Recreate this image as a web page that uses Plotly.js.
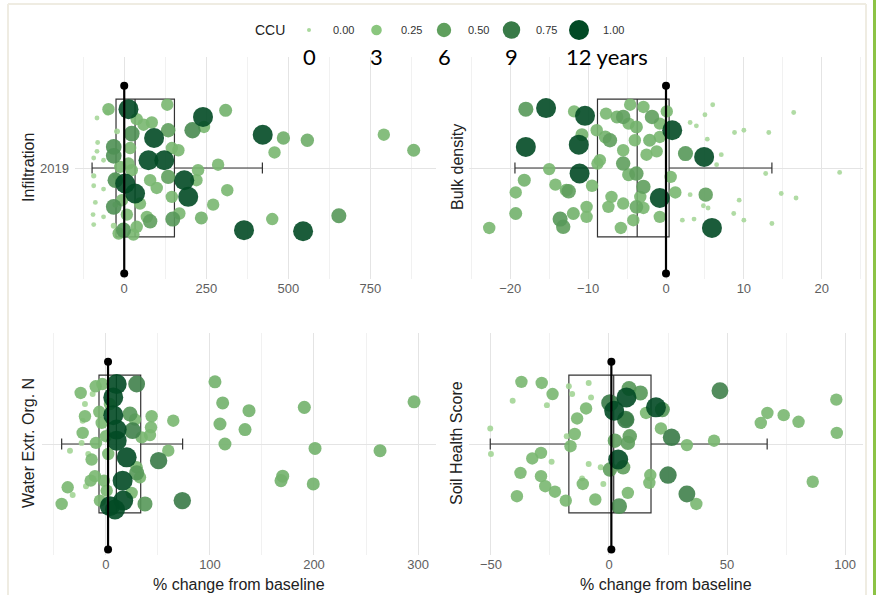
<!DOCTYPE html>
<html><head><meta charset="utf-8">
<script src="https://cdn.plot.ly/plotly-3.0.1.min.js"></script>
<style>html,body{margin:0;padding:0;background:#fff}#chart{width:876px;height:595px}</style>
</head><body><div id="chart"></div>
<script>
// ---------------- data ----------------
const panelNames = ['Infiltration', 'Bulk density', 'Water Extr. Org. N', 'Soil Health Score'];
const yearTick = ['2019'];

// Infiltration: x = % change, y = jitter offset, c = CCU
const infX = [13,240,422,91,74,122,183,3,33,195,365,545, 208,654,-32,-32,-27,-32,79,148,134,23,134,-2, -48,131,309,38,84,59,243,485,558,791,882,458,165,286,225,18,13,23,79,99,145,314,271,235,451,168,38,69,-7,8,48,-12,145,220,28,-17, -83,-52,-22,-81,-63,-93,-93,-27,-93,-63,-88,-27,-95,-63,-93,-32,-83];
const infY = [0.53,0.46,0.30,0.27,0.07,0.07,-0.11,-0.14,-0.23,-0.26,-0.56,-0.57, 0.34,-0.43,0.19,0.11,-0.11,-0.35,-0.48,-0.46,0.34,0.31,-0.08,-0.56, 0.53,0.57,0.52,0.44,0.41,0.39,0.37,0.27,0.25,0.30,0.16,0.14,0.16,0.03,-0.02,0.18,0.04,-0.02,-0.11,-0.18,-0.26,-0.20,-0.33,-0.45,-0.46,-0.41,-0.53,-0.44,-0.29,-0.42,-0.32,0.01,0.18,-0.11,-0.60,-0.59, 0.45,0.50,0.33,0.23,0.07,0.09,-0.07,-0.07,-0.16,-0.19,-0.31,-0.33,-0.42,-0.44,-0.51,-0.52,0.15];
const infC = [1,1,1,1,1,1,1,1,1,1,1,1, 0.65,0.55,0.6,0.6,0.6,0.6,0.5,0.55,0.5,0.6,0.5,0.55, 0.36,0.36,0.4,0.36,0.36,0.36,0.36,0.42,0.42,0.36,0.4,0.36,0.36,0.36,0.36,0.36,0.36,0.36,0.36,0.36,0.36,0.36,0.36,0.4,0.36,0.36,0.36,0.36,0.36,0.36,0.36,0.36,0.36,0.36,0.36,0.36, 0.02,0.05,0.05,0.02,0.02,0.02,0.03,0.05,0.02,0.02,0.02,0.05,0.02,0.02,0.02,0.05,0.02];

// Bulk density
const bdX = [-15.4,-10.4,-18.0,-11.2,-11.1,0.8,4.9,-0.8,5.9,
  -18.0,2.5,5.1,-13.2,-13.6,-12.5,-7.2,-5.5,-3.8,-2.9,-5.5,-1.8,-3.8,
  -22.7,-19.3,-19.3,-18.2,-15.0,-14.2,-12.8,-11.8,-10.8,-9.5,-10.2,-10.2,-11.9,-8.8,-8.9,-7.7,-7.8,-7.0,-7.4,-5.8,
  -5.5,-6.3,-4.6,-4.2,-3.8,-4.0,-2.9,-2.5,-2.1,-1.2,-2.9,-0.8,-0.8,0.6,1.2,0.1,-4.8,-3.3,-8.5,-5.5,-4.8,-0.8,
  6.0,5.0,3.1,3.9,16.4,8.8,10.0,13.2,5.3,7.1,6.5,12.8,22.3,3.1,9.4,14.8,16.7,4.8,5.4,8.7,10.0,3.6,2.1,13.6];
const bdY = [0.54,0.47,0.19,0.21,-0.05,0.34,0.10,-0.27,-0.54,
  0.53,0.13,-0.24,-0.53,-0.46,-0.21,0.25,0.04,-0.05,-0.17,0.46,0.46,-0.35,
  -0.54,-0.41,-0.22,-0.11,-0.01,-0.15,-0.20,0.51,0.30,-0.16,-0.35,-0.44,-0.41,0.04,0.34,0.49,0.28,-0.26,-0.35,-0.54,
  0.16,0.46,0.57,-0.47,0.37,0.25,0.55,0.12,0.25,0.15,-0.36,-0.44,0.40,-0.08,-0.22,0.51,-0.06,-0.26,0.07,-0.32,0.40,0.28,
  0.57,0.48,0.41,0.38,0.50,0.32,0.34,0.32,0.26,0.12,0.03,-0.05,-0.04,-0.24,-0.29,-0.23,-0.27,-0.34,-0.36,-0.41,-0.47,-0.46,-0.47,-0.50];
const bdC = [1,1,1,1,1,1,1,1,1,
  0.55,0.55,0.5,0.5,0.55,0.5,0.5,0.5,0.5,0.5,0.5,0.5,0.45,
  0.36,0.4,0.36,0.4,0.36,0.36,0.4,0.36,0.4,0.36,0.36,0.36,0.4,0.36,0.36,0.36,0.4,0.36,0.36,0.36,
  0.36,0.4,0.36,0.36,0.4,0.36,0.36,0.36,0.4,0.36,0.36,0.36,0.36,0.36,0.36,0.36,0.4,0.36,0.36,0.36,0.36,0.36,
  0.02,0.02,0.02,0.02,0.02,0.02,0.02,0.02,0.02,0.02,0.02,0.02,0.02,0.02,0.02,0.02,0.02,0.02,0.02,0.02,0.02,0.02,0.02,0.02];

// Water extractable organic N
const weX = [104.8,112.2,137.5,109.6,133.7,190.7,296.2,114.4,201,263.5,169.9,168.3,199.3,-24.3,-20.2,-22.4,-36.8,-42.6,-9.9,-3.5,
  -6.4,-4.1,-9.6,-13.8,-10.6,-14.7,43.9,43.3,42.3,64.7,59.9,34.3,29.5,32.7,24.7,0.7,-1.9,2.2,0,3.8,27.9,-5.8,
  -20.2,-12.8,-34.6,-19.2,-32.0,-23.4,-17.0,-22.4,
  29.5,23.1,25.6,50.6,73.4,37.5,29.5,
  10.3,7.0,7.0,10.3,10.3,19.9,16.0,16.6,3.8,8.7];
const weY = [0.56,0.37,0.30,0.18,0.13,0.33,0.38,0.00,-0.04,-0.06,-0.29,-0.33,-0.36,0.46,0.25,0.10,-0.39,-0.54,0.52,0.54,
  0.29,0.19,0.01,-0.14,-0.29,-0.33,0.25,0.15,0.08,0.21,-0.06,0.06,-0.21,-0.30,-0.44,-0.42,-0.33,-0.09,0.07,0.36,0.22,-0.51,
  0.36,0.45,-0.06,-0.38,-0.46,0.01,-0.09,0.21,
  0.54,0.27,0.12,-0.15,-0.51,-0.54,-0.26,
  0.54,0.42,0.26,0.13,0.03,-0.12,-0.33,-0.51,-0.56,-0.59];
const weC = [0.4,0.4,0.4,0.4,0.4,0.4,0.4,0.4,0.4,0.4,0.4,0.4,0.4,0.36,0.36,0.36,0.36,0.36,0.36,0.36,
  0.36,0.36,0.36,0.36,0.36,0.36,0.36,0.36,0.36,0.36,0.36,0.36,0.36,0.36,0.36,0.36,0.36,0.36,0.36,0.36,0.36,0.36,
  0.05,0.05,0.05,0.05,0.05,0.05,0.05,0.05,
  0.7,0.55,0.7,0.75,0.75,0.55,0.55,
  1,1,1,1,1,1,1,1,1,1];

// Soil health score
const shX = [-37.1,-28.5,-23.9,-9.7,-13.5,-14.5,-16.3,-28.8,-32.5,-37.5,-28.8,-27.0,-22.9,-39.0,-18.3,-11.1,-5.8,8.0,17.5,17.1,
  33.0,37.0,44.5,22.0,15.7,64.3,67.1,74.0,80.3,96.3,96.5,86.3,
  -50.3,-50,-40.8,-26.3,-17.0,-15.6,-8.6,-7.6,-17.9,-24.3,-8.6,-3.5,-2.4,-11.4,
  8.5,13.3,7.4,8.8,8.0,2.5,6.0,0.4,22.6,4.3,
  47.0,26.5,25.0,33.0,7.1,0.4,
  7.4,2.2,19.9,3.9];
const shY = [0.56,0.55,0.45,0.32,0.23,0.09,-0.02,-0.08,-0.13,-0.26,-0.29,-0.38,-0.43,-0.47,-0.51,-0.36,-0.50,-0.44,-0.28,-0.35,
  -0.01,-0.54,0.03,0.14,0.28,0.19,0.28,0.26,0.20,0.40,0.10,-0.34,
  0.14,-0.09,0.39,0.35,0.52,0.45,0.55,0.42,0.07,-0.16,-0.18,-0.21,-0.36,-0.31,
  0.50,0.46,0.22,0.07,0.01,0.03,-0.21,-0.23,0.31,-0.56,
  0.48,0.06,-0.28,-0.45,0.22,0.37,
  0.42,0.30,0.33,-0.14];
const shC = [0.36,0.36,0.36,0.36,0.36,0.36,0.36,0.36,0.36,0.36,0.36,0.36,0.36,0.36,0.36,0.36,0.36,0.36,0.36,0.36,
  0.36,0.36,0.36,0.36,0.36,0.36,0.36,0.36,0.36,0.36,0.36,0.36,
  0.05,0.05,0.05,0.05,0.05,0.05,0.05,0.05,0.05,0.05,0.05,0.05,0.05,0.05,
  0.55,0.55,0.5,0.5,0.5,0.5,0.5,0.5,0.55,0.6,
  0.7,0.75,0.75,0.7,0.75,0.75,
  1,1,1,1];

// box statistics per panel (Infiltration, Bulk density, WEON, SHS)
const boxQ1 = [-25, -8.8, -6.7, -17];
const boxMedian = [33, -3.7, 10, 2];
const boxQ3 = [153, 0.4, 33.4, 17.8];
const boxLower = [-98, -19.4, -42.6, -50.3];
const boxUpper = [421, 13.6, 73.7, 67];

// reference (baseline) line per panel
const baseX = [0, 0, 2, 1];
const baseYTop = 0.74, baseYBottom = -0.95;

// legend
const ccuLevels = [0, 0.25, 0.5, 0.75, 1];
const ccuLabels = ['0.00', '0.25', '0.50', '0.75', '1.00'];
const yearLabels = ['0', '3', '6', '9', '12 years'];

// ---------------- styling ----------------
const W = 876, H = 595;
const colorscale = [[0,'#a9d99c'],[0.3,'#84c278'],[0.5,'#5f9f5d'],[0.75,'#387a47'],[1,'#024a25']];
const sizeOf = c => Math.sqrt(16 + 384 * c);
const px = v => v / W;
const py = v => (H - v) / H;
const FONT = 'Liberation Sans, Arial, sans-serif';

const sets = [
  {x: infX, y: infY, c: infC},
  {x: bdX, y: bdY, c: bdC},
  {x: weX, y: weY, c: weC},
  {x: shX, y: shY, c: shC}
];
const axIds = [['x','y'],['x2','y2'],['x3','y3'],['x4','y4']];

const traces = [];
sets.forEach((s, i) => {
  const [xa, ya] = axIds[i];
  traces.push({
    type: 'box', orientation: 'h', xaxis: xa, yaxis: ya,
    y: [0], q1: [boxQ1[i]], median: [boxMedian[i]], q3: [boxQ3[i]],
    lowerfence: [boxLower[i]], upperfence: [boxUpper[i]],
    width: 1.24, whiskerwidth: 0.08, boxpoints: false,
    fillcolor: 'rgba(0,0,0,0)', line: {color: '#333', width: 1.2},
    hoverinfo: 'skip', showlegend: false
  });
});
sets.forEach((s, i) => {
  const [xa, ya] = axIds[i];
  const order = s.c.map((v, k) => k).sort((a, b) => s.c[a] - s.c[b]);
  const xs = order.map(k => s.x[k]), ys = order.map(k => s.y[k]), cs = order.map(k => s.c[k]);
  traces.push({
    type: 'scatter', mode: 'markers', xaxis: xa, yaxis: ya,
    x: xs, y: ys,
    marker: {size: cs.map(sizeOf), color: cs, colorscale: colorscale, cmin: 0, cmax: 1,
             opacity: 0.9, line: {width: 0}},
    hoverinfo: 'skip', showlegend: false
  });
});
sets.forEach((s, i) => {
  const [xa, ya] = axIds[i];
  traces.push({
    type: 'scatter', mode: 'lines+markers', xaxis: xa, yaxis: ya,
    x: [baseX[i], baseX[i]], y: [baseYTop, baseYBottom],
    line: {color: '#000', width: 2.2}, marker: {color: '#000', size: 8},
    hoverinfo: 'skip', showlegend: false, cliponaxis: false
  });
});
// legend keys
traces.push({
  type: 'scatter', mode: 'markers', xaxis: 'x5', yaxis: 'y5',
  x: ccuLevels.map((v, i) => i), y: ccuLevels.map(() => 0),
  marker: {size: ccuLevels.map(sizeOf), color: ccuLevels, colorscale: colorscale, cmin: 0, cmax: 1,
           opacity: 1, line: {width: 0}},
  hoverinfo: 'skip', showlegend: false, cliponaxis: false
});

function xAxis(l, r, range, dtick, minor, anchor) {
  return {domain: [px(l), px(r)], range: range, anchor: anchor, tick0: 0, dtick: dtick,
    showgrid: true, gridcolor: '#e4e4e4', gridwidth: 1,
    minor: {tick0: 0, dtick: minor, showgrid: true, gridcolor: '#f1f1f1', gridwidth: 1},
    zeroline: false, showline: false, ticks: '', automargin: false, fixedrange: true,
    tickfont: {family: FONT, size: 13, color: '#5e5e5e'}};
}
function yAxis(top, bottom, anchor, labels) {
  return {domain: [py(bottom), py(top)], range: [-1, 1], anchor: anchor,
    tickvals: [0], ticktext: labels ? yearTick : [''], showticklabels: !!labels,
    showgrid: true, gridcolor: '#e4e4e4', gridwidth: 1, zeroline: false, showline: false,
    ticks: '', ticklabelstandoff: 5, automargin: false, fixedrange: true,
    tickfont: {family: FONT, size: 13, color: '#5e5e5e'}};
}

const annotations = [];
const titleFont = {family: FONT, size: 16, color: '#222'};
const yTitlePos = [[28, 168], [457, 167], [28, 443], [456, 443]];
panelNames.forEach((n, i) => {
  annotations.push({text: n, xref: 'paper', yref: 'paper', x: px(yTitlePos[i][0]), y: py(yTitlePos[i][1]),
    textangle: -90, showarrow: false, font: titleFont, xanchor: 'center', yanchor: 'middle'});
});
[[239, 584], [666, 584]].forEach(p => {
  annotations.push({text: '% change from baseline', xref: 'paper', yref: 'paper', x: px(p[0]), y: py(p[1]),
    showarrow: false, font: titleFont, xanchor: 'center', yanchor: 'middle'});
});
annotations.push({text: 'CCU', xref: 'paper', yref: 'paper', x: px(287), y: py(30), xanchor: 'right', yanchor: 'middle',
  showarrow: false, font: {family: FONT, size: 14, color: '#222'}});
ccuLabels.forEach((t, i) => {
  annotations.push({text: t, xref: 'x5', yref: 'y5', x: i, y: 0, xanchor: 'left', yanchor: 'middle', xshift: 22,
    showarrow: false, font: {family: FONT, size: 11, color: '#333'}});
});
yearLabels.forEach((t, i) => {
  const last = i === yearLabels.length - 1;
  annotations.push({text: t, xref: 'x5', yref: 'paper', x: i, y: py(57), xanchor: last ? 'left' : 'center',
    xshift: last ? -15 : 0, yanchor: 'middle', showarrow: false,
    font: {family: 'Lato, Open Sans, sans-serif', size: 22, color: '#000'}});
});

const frame = '#efece2';
const shapes = [
  {type: 'line', xref: 'paper', yref: 'paper', x0: px(8), x1: px(866), y0: py(4), y1: py(4), line: {color: frame, width: 2}},
  {type: 'line', xref: 'paper', yref: 'paper', x0: px(8), x1: px(8), y0: py(4), y1: 0, line: {color: frame, width: 2}},
  {type: 'line', xref: 'paper', yref: 'paper', x0: px(866), x1: px(866), y0: py(4), y1: 0, line: {color: frame, width: 2}},
  {type: 'line', xref: 'paper', yref: 'paper', x0: px(874.5), x1: px(874.5), y0: 0, y1: 1, line: {color: '#8cc346', width: 3}}
];

const layout = {
  width: W, height: H, margin: {l: 0, r: 0, t: 0, b: 0},
  paper_bgcolor: '#fff', plot_bgcolor: 'rgba(0,0,0,0)', showlegend: false,
  font: {family: FONT},
  xaxis: xAxis(75, 436, [-150, 950], 250, 125, 'y'),
  yaxis: yAxis(57, 279, 'x', true),
  xaxis2: xAxis(469, 863, [-25.3, 25.3], 10, 5, 'y2'),
  yaxis2: yAxis(57, 279, 'x2', false),
  xaxis3: xAxis(42, 436, [-61.5, 317.3], 100, 50, 'y3'),
  yaxis3: yAxis(333, 555, 'x3', false),
  xaxis4: xAxis(469, 863, [-59.3, 107.6], 50, 25, 'y4'),
  yaxis4: yAxis(333, 555, 'x4', false),
  xaxis5: {domain: [px(309), px(579)], range: [0, 4], visible: false, fixedrange: true, anchor: 'y5'},
  yaxis5: {domain: [py(40), py(20)], range: [-1, 1], visible: false, fixedrange: true, anchor: 'x5'},
  annotations: annotations, shapes: shapes
};

Plotly.newPlot('chart', traces, layout, {staticPlot: true, displayModeBar: false});
</script></body></html>
